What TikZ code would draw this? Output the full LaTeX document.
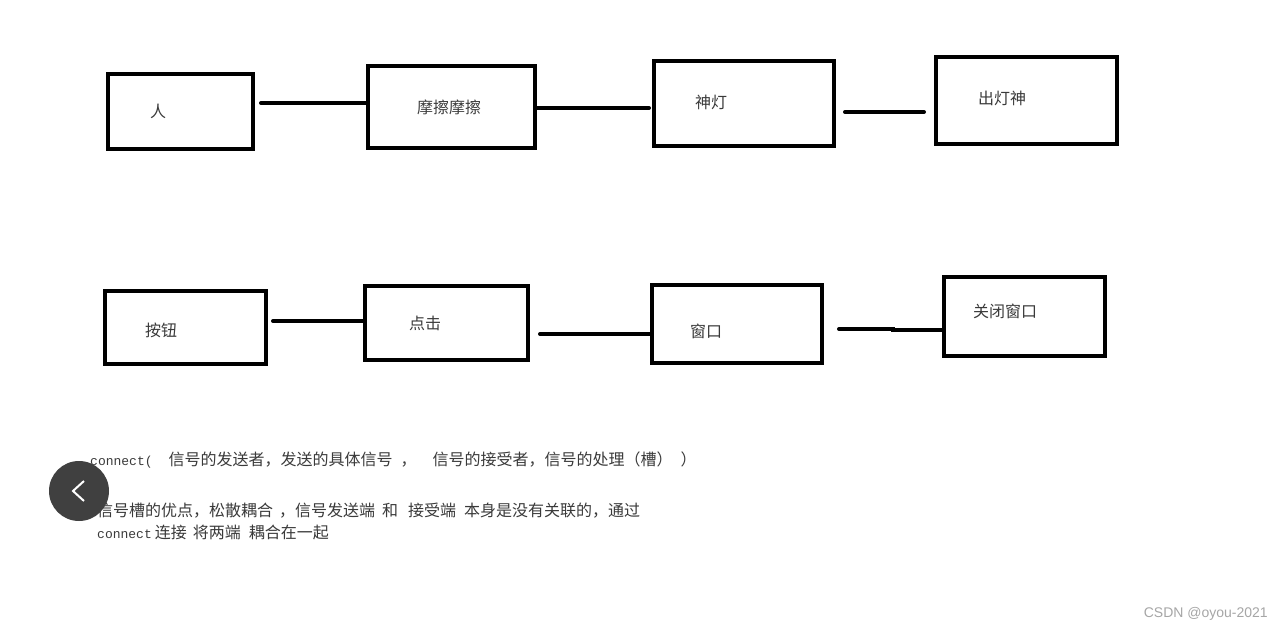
\documentclass[tikz,border=0pt]{standalone}
\usepackage{fontspec}
\usepackage{xcolor}
\usetikzlibrary{positioning}
\setmainfont{Noto Sans CJK SC}
\setmonofont{Liberation Mono}
\newfontfamily\marksans{Liberation Sans}
\definecolor{sketchInk}{HTML}{000000}
\definecolor{sketchText}{HTML}{3A3A3A}
\definecolor{backDisc}{HTML}{404040}
\definecolor{markGrey}{HTML}{A6A6A6}
\newcommand{\mono}[1]{{\ttfamily\fontsize{13}{16}\selectfont #1}}
\tikzset{
  sketchbox/.style={
    rectangle,
    draw=sketchInk,
    line width=4pt,
    inner sep=0pt,
    anchor=north west
  },
  sketchlabel/.style={
    anchor=center,
    inner sep=0pt,
    text=sketchText,
    font=\fontsize{16}{16}\selectfont
  },
  note/.style={
    anchor=west,
    inner sep=0pt,
    text=sketchText,
    font=\fontsize{16}{18}\selectfont
  },
  link/.style={
    line width=4pt,
    draw=sketchInk,
    line cap=round
  }
}
\begin{document}
\begin{tikzpicture}[x=1pt,y=-1pt]
  \useasboundingbox[fill=white] (0,0) rectangle (1284,631);
  % upper row
  \node[sketchbox,minimum width=145pt,minimum height=75pt] (person) at (106,72) {};
  \node[sketchbox,minimum width=167pt,minimum height=82pt] (rub) at (366,64) {};
  \node[sketchbox,minimum width=180pt,minimum height=85pt] (lamp) at (652,59) {};
  \node[sketchbox,minimum width=181pt,minimum height=87pt] (genie) at (934,55) {};
  \node[sketchlabel] (personText) at (158,111) {人};
  \node[sketchlabel] (rubText) at (449,107) {摩擦摩擦};
  \node[sketchlabel] (lampText) at (711,102) {神灯};
  \node[sketchlabel] (genieText) at (1002,98) {出灯神};
  % lower row
  \node[sketchbox,minimum width=161pt,minimum height=73pt] (button) at (103,289) {};
  \node[sketchbox,minimum width=163pt,minimum height=74pt] (click) at (363,284) {};
  \node[sketchbox,minimum width=170pt,minimum height=78pt] (window) at (650,283) {};
  \node[sketchbox,minimum width=161pt,minimum height=79pt] (closing) at (942,275) {};
  \node[sketchlabel] (buttonText) at (161,330) {按钮};
  \node[sketchlabel] (clickText) at (425,323) {点击};
  \node[sketchlabel] (windowText) at (706,331) {窗口};
  \node[sketchlabel] (closingText) at (1005,311) {关闭窗口};
  % free line ends
  \coordinate (personEnd) at (261,103);
  \coordinate (rubEnd) at (649,108);
  \coordinate (lampEnd) at (845,112);
  \coordinate (genieEnd) at (924,112);
  \coordinate (buttonEnd) at (273,321);
  \coordinate (clickEnd) at (540,334);
  \coordinate (windowEnd) at (839,329);
  \coordinate (windowKink) at (893,330);
  \draw[link] (personEnd) -- (personEnd -| rub.west);
  \draw[link] (rubEnd -| rub.east) -- (rubEnd);
  \draw[link] (lampEnd) -- (genieEnd);
  \draw[link] (buttonEnd) -- (buttonEnd -| click.west);
  \draw[link] (clickEnd) -- (clickEnd -| window.west);
  \draw[link] (windowEnd) -- (windowEnd -| windowKink) -- (windowKink) -- (windowKink -| closing.west);
  % notes
  \node[note] (signature) at (90,460) {\mono{connect(}\hspace{16pt}信号的发送者，发送的具体信号\hspace{8pt}，\hspace{16pt}信号的接受者，信号的处理（槽）\hspace{8pt}）};
  \node[note] (merit) at (97,511) {信号槽的优点，松散耦合\hspace{6pt}，信号发送端\hspace{7pt}和\hspace{10pt}接受端\hspace{8pt}本身是没有关联的，通过};
  \node[note] (meritNext) at (97,532) {\mono{connect}\hspace{3pt}连接\hspace{6pt}将两端\hspace{8pt}耦合在一起};
  % page overlays
  \node[circle,fill=backDisc,minimum size=60pt,inner sep=0pt] (back) at (79,491) {};
  \draw[white,line width=2pt] ([shift={(5,-10)}]back.center) -- ([shift={(-6,0)}]back.center) -- ([shift={(5,10)}]back.center);
  \node[anchor=east,inner sep=0pt,text=markGrey,font=\marksans\fontsize{14}{14}\selectfont] (watermark) at (1268,614) {CSDN @oyou-2021};
\end{tikzpicture}
\end{document}
